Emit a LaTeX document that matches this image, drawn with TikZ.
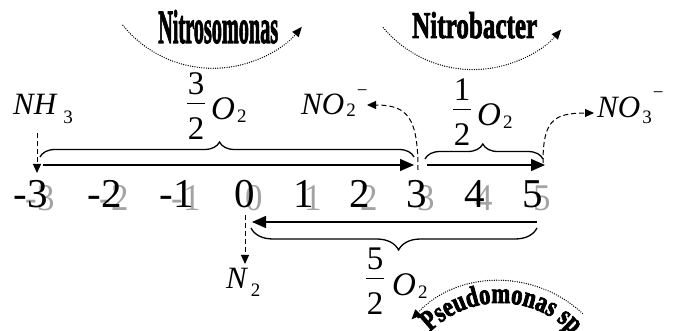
\documentclass[tikz,border=0pt]{standalone}
\usepackage{fontspec}
\setmainfont{Liberation Serif}
\newfontfamily\heavyfont{Liberation Serif}[FakeBold=2.5]
\newfontfamily\pseudofont{Liberation Serif}[FakeStretch=0.78,FakeBold=2.5]
\usepackage{graphicx}
\usetikzlibrary{arrows.meta,decorations.pathreplacing,decorations.text,calc}
\newcommand\lowsub[2]{\raisebox{-#1}{\fontsize{19}{19}\selectfont\upshape #2}}
\newcommand\highsup[2]{\raisebox{#1}{\fontsize{19}{19}\selectfont\upshape #2}}
\tikzset{
  num/.style={anchor=base,inner sep=0pt,font=\fontsize{41}{41}\selectfont},
  numshadow/.style={anchor=base,inner sep=0pt,text=black!36,font=\fontsize{41}{41}\selectfont},
  chem/.style={anchor=base west,inner sep=0pt,font=\fontsize{31}{31}\selectfont\itshape},
  fracdigit/.style={anchor=base,inner sep=0pt,font=\fontsize{33}{33}\selectfont},
  oxy/.style={anchor=base west,inner sep=0pt,font=\fontsize{33}{33}\selectfont\itshape},
  bact/.style={anchor=base west,inner sep=0pt},
  solidarrow/.style={line width=1.3pt,-{Triangle[length=14pt,width=12pt]}},
  dasharrow/.style={line width=1pt,dash pattern=on 5pt off 3pt,-{Triangle[length=9pt,width=8pt]}},
  dotarrow/.style={line width=1.4pt,line cap=round,dash pattern=on 0pt off 2.3pt,-{Triangle[length=10pt,width=8pt]}},
  bracedec/.style={line width=1.3pt,decorate,decoration={brace,amplitude=#1,aspect=0.48}},
  fracbar/.style={line width=1pt},
}
\begin{document}
\begin{tikzpicture}[x=1pt,y=1pt]
\useasboundingbox (0,0) rectangle (675,-331);

% ---- number line: shadows then digits
\foreach \v/\x/\nm in {-3/31/m3,-2/105/m2,-1/177/m1,0/245/z0,1/304/p1,2/360/p2,3/417/p3,4/475/p4,5/533/p5}{
  \node[numshadow] (s\nm) at (\x+9,-211) {\scalebox{0.85}[0.92]{\v}};
  \node[num] (n\nm) at (\x,-208) {\v};
}

% ---- bacteria names
\node[bact] (nitroso) at (158,-43) {\resizebox{120pt}{33pt}{\heavyfont\bfseries Nitrosomonas}};
\node[bact] (nitrobac) at (412,-38) {\resizebox{125pt}{26pt}{\heavyfont\bfseries Nitrobacter}};

% ---- dotted arcs
\coordinate (cA) at (213,47.7);
\coordinate (cB) at (473,47.4);
\coordinate (cP) at (500,-402);
\draw[dotarrow] ($(cA)+(219:116)$) arc[start angle=219,end angle=320,radius=116];
\draw[dotarrow] ($(cB)+(220:117)$) arc[start angle=220,end angle=319,radius=117];
\draw[dotarrow] ($(cP)+(47:121)$) arc[start angle=47,end angle=137,radius=121];
\path[decorate,decoration={text along path,text align=center,
  text={|\pseudofont\bfseries\fontsize{29}{29}\selectfont|Pseudomonas sp}}]
  ($(cP)+(142:99)$) arc[start angle=142,end angle=36,radius=99];

% ---- chemical labels
\node[chem] (nh3) at (13,-115) {NH\kern7pt\lowsub{9pt}{3}};
\node[chem] (no2) at (301,-115) {NO\kern2pt\lowsub{2pt}{2}\kern1pt\highsup{18pt}{\char"2212}};
\node[chem] (no3) at (597,-118) {NO\kern2pt\lowsub{6pt}{3}\kern1pt\highsup{19pt}{\char"2212}};
\node[chem] (n2) at (226,-288) {N\kern4pt\lowsub{9pt}{2}};

% ---- fraction 3/2 O2
\node[fracdigit] (f1n) at (196,-95) {3};
\node[fracdigit] (f1d) at (196,-140) {2};
\draw[fracbar] (187,-103.5) -- (205,-103.5);
\node[oxy] (f1o) at (211,-120) {O\kern2pt\lowsub{3pt}{2}};
% ---- fraction 1/2 O2
\node[fracdigit] (f2n) at (462,-101) {1};
\node[fracdigit] (f2d) at (462,-146) {2};
\draw[fracbar] (453,-109.5) -- (471,-109.5);
\node[oxy] (f2o) at (477,-126) {O\kern2pt\lowsub{3pt}{2}};
% ---- fraction 5/2 O2
\node[fracdigit] (f3n) at (375,-270) {5};
\node[fracdigit] (f3d) at (375,-315) {2};
\draw[fracbar] (366,-278.5) -- (384,-278.5);
\node[oxy] (f3o) at (392,-295) {O\kern2pt\lowsub{3pt}{2}};

% ---- connector end points
\coordinate (a1s) at (43,-165);   \coordinate (a1e) at (414,-165);
\coordinate (a2s) at (427,-165);  \coordinate (a2e) at (545,-165);
\coordinate (a3s) at (537,-222);  \coordinate (a3e) at (252,-222);
\coordinate (b1s) at (40,-157);   \coordinate (b1e) at (414,-157);
\coordinate (b2s) at (425,-159);  \coordinate (b2e) at (543,-159);
\coordinate (b3s) at (537,-228);  \coordinate (b3e) at (251,-228);
\coordinate (dNH) at (37,-133);   \coordinate (dNHe) at (37,-173);
\coordinate (dN2) at (245,-215);  \coordinate (dN2e) at (245,-264);
\coordinate (dNO2) at (418,-170); \coordinate (dNO2e) at (367,-105);
\coordinate (dNO3) at (543,-163); \coordinate (dNO3e) at (594,-113);

% ---- solid arrows
\draw[solidarrow] (a1s) -- (a1e);
\draw[solidarrow] (a2s) -- (a2e);
\draw[solidarrow] (a3s) -- (a3e);

% ---- braces
\draw[bracedec=15] (b1s) -- (b1e);
\draw[bracedec=15,decoration={aspect=0.49}] (b2s) -- (b2e);
\draw[bracedec=22,decoration={aspect=0.484}] (b3s) -- (b3e);

% ---- dashed arrows
\draw[dasharrow] (dNH) -- (dNHe);
\draw[dasharrow] (dN2) -- (dN2e);
\draw[dasharrow] (dNO2) .. controls (418,-118) and (408,-105) .. (dNO2e);
\draw[dasharrow] (dNO3) .. controls (543,-122) and (552,-113) .. (dNO3e);
\end{tikzpicture}
\end{document}
